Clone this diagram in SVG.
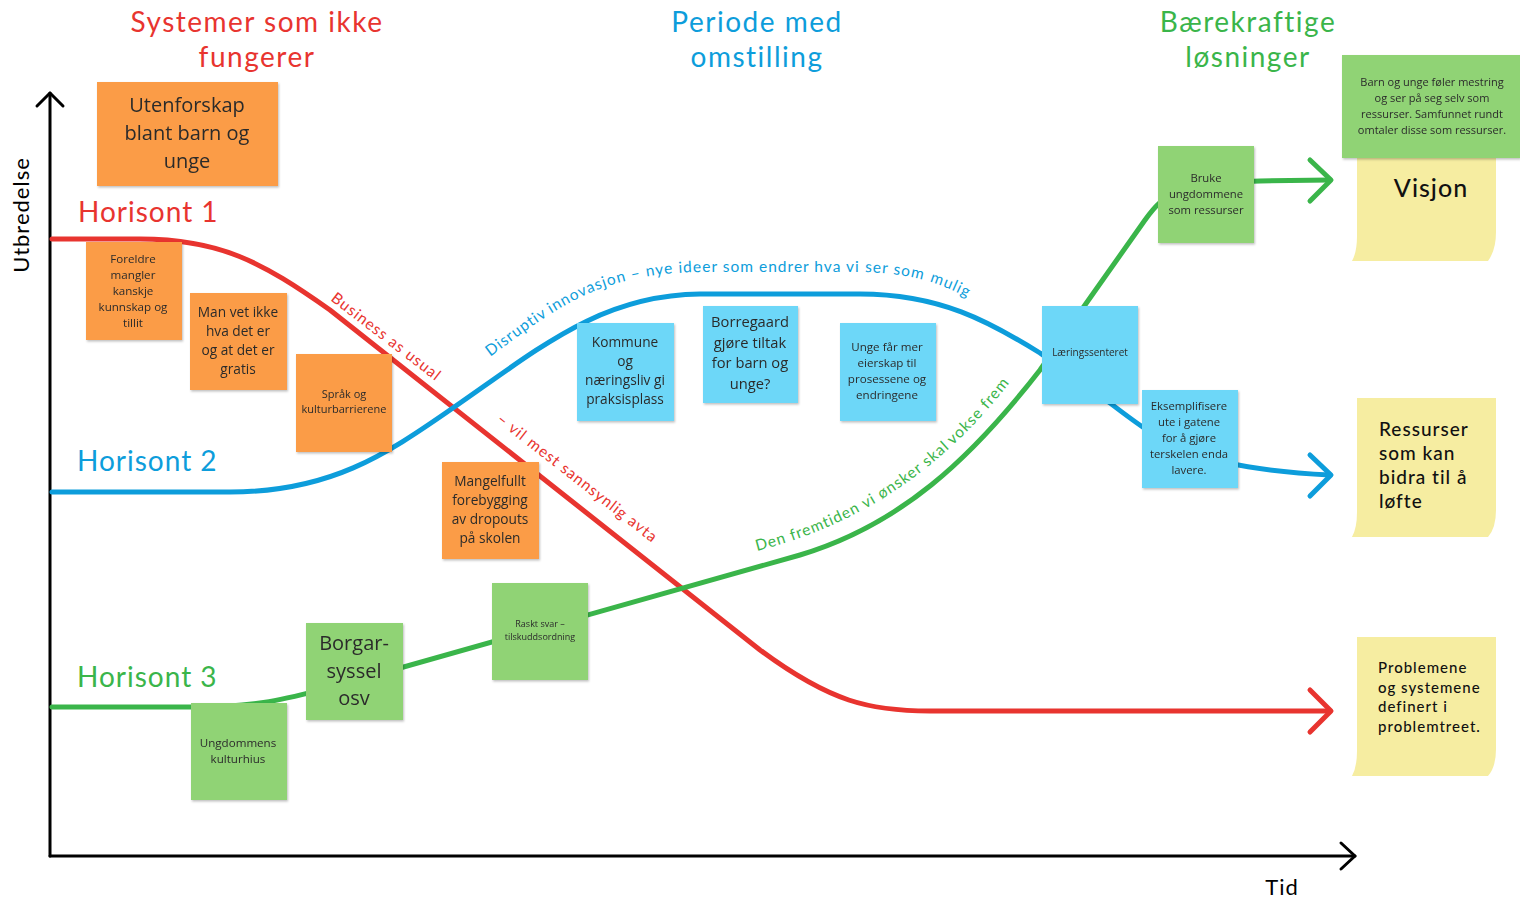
<svg xmlns="http://www.w3.org/2000/svg" width="1520" height="898" viewBox="0 0 1520 898">
<defs>
<filter id="sh" x="-10%" y="-10%" width="130%" height="130%">
<feDropShadow dx="1" dy="1.5" stdDeviation="1.2" flood-color="#000" flood-opacity="0.25"/>
</filter>
<path id="tpBlue" d="M 490,357 C 560,305 600,274 700,272 L 860,272 C 905,273 935,280 972,300"/>
<path id="tpGreen" d="M 757,551 C 850,527 935,478 1007,386"/>
</defs>
<style>
.ax{fill:none;stroke:#000;stroke-width:3;stroke-linecap:round;stroke-linejoin:round}
.ln{fill:none;stroke-width:5;stroke-linecap:round;stroke-linejoin:round}
.r{stroke:#e8342f}.b{stroke:#0d9ddb}.g{stroke:#3ab54a}
.hd{font-family:"Lato","Noto Sans",sans-serif;font-size:28px;letter-spacing:1.5px;text-anchor:middle}
.hz{font-family:"Lato","Noto Sans",sans-serif;font-size:28px;letter-spacing:1px}
.lb{font-family:"Lato","Noto Sans",sans-serif;font-size:15.5px;letter-spacing:1px}
.nt{filter:url(#sh)}
.o{fill:#fb9c46}.gn{fill:#90d375}.bl{fill:#6dd7f8}.y{fill:#f6eda1}
.tx{font-family:"Open Sans","Noto Sans",sans-serif;fill:#2b2b2b;text-anchor:middle}
.yt{font-family:"Lato","Noto Sans",sans-serif;fill:#111;letter-spacing:1px;font-weight:500}
</style>

<g id="axes">
<line class="ax" x1="50" y1="93" x2="50" y2="856"/>
<polyline class="ax" points="37,106 50,93 63,106"/>
<line class="ax" x1="50" y1="856" x2="1355" y2="856"/>
<polyline class="ax" points="1341,843 1355,856 1341,869"/>
<text x="1282" y="895" font-family="Lato, 'Noto Sans', sans-serif" font-size="22" letter-spacing="1" text-anchor="middle">Tid</text>
<text transform="translate(29,215) rotate(-90)" font-family="Lato, 'Noto Sans', sans-serif" font-size="22" letter-spacing="1" text-anchor="middle">Utbredelse</text>
</g>

<g id="headers">
<text class="hd" x="257" y="32" fill="#e8342f">Systemer som ikke</text>
<text class="hd" x="257" y="67" fill="#e8342f">fungerer</text>
<text class="hd" x="757" y="32" fill="#0d9ddb">Periode med</text>
<text class="hd" x="757" y="67" fill="#0d9ddb">omstilling</text>
<text class="hd" x="1248" y="32" fill="#3ab54a">Bærekraftige</text>
<text class="hd" x="1248" y="67" fill="#3ab54a">løsninger</text>
<text class="hz" x="78" y="222" fill="#e8342f">Horisont 1</text>
<text class="hz" x="77" y="471" fill="#0d9ddb">Horisont 2</text>
<text class="hz" x="77" y="687" fill="#3ab54a">Horisont 3</text>
</g>

<g id="connectors">
<path id="h1" class="ln r" d="M 52,239 L 140,239 C 220,239 262,262 330,310 L 760,650 C 830,702 870,711 930,711 L 1330,711"/>
<polyline class="ln r" points="1310,690 1331,711 1310,732"/>
<path id="h2" class="ln b" d="M 52,492 L 230,492 C 330,492 385,455 450,410 C 540,348 600,295 700,294 L 860,294 C 940,294 990,322 1040,353 L 1110,403 C 1165,445 1195,468 1330,475"/>
<polyline class="ln b" points="1310,455 1331,475 1310,496"/>
<path id="h3" class="ln g" d="M 52,707 L 195,707 C 260,707 290,698 340,685 L 800,555 C 900,525 970,460 1040,370 L 1085,305 L 1145,220 C 1165,192 1180,183 1260,181 L 1330,180"/>
<polyline class="ln g" points="1310,160 1331,180 1310,201"/>
<text class="lb" fill="#e8342f" transform="translate(330,300) rotate(37.5)">Business as usual</text>
<g fill="#e8342f" transform="translate(496,421) rotate(38)">
<text class="lb" x="0" y="0">– vil</text>
<text class="lb" x="38.5" y="0">mest</text>
<text class="lb" x="80.5" y="0">sannsynlig avta</text>
</g>
<g fill="#0d9ddb">
<text class="lb"><textPath href="#tpBlue" startOffset="0">Disruptiv</textPath></text>
<text class="lb"><textPath href="#tpBlue" startOffset="75">innovasjon –</textPath></text>
<text class="lb"><textPath href="#tpBlue" startOffset="178">nye ideer som endrer hva vi ser som</textPath></text>
<text class="lb"><textPath href="#tpBlue" startOffset="462">mulig</textPath></text>
</g>
<g fill="#3ab54a">
<text class="lb"><textPath href="#tpGreen" startOffset="0">Den fremtiden vi ønsker skal</textPath></text>
<text class="lb"><textPath href="#tpGreen" startOffset="225">vokse frem</textPath></text>
</g>
</g>

<g id="n-utenforskap" class="nt"><rect class="o" x="97" y="82" width="181" height="104"/>
<text class="tx" font-size="20"><tspan x="187" y="112">Utenforskap</tspan><tspan x="187" y="140">blant barn og</tspan><tspan x="187" y="168">unge</tspan></text></g>

<g id="n-foreldre" class="nt"><rect class="o" x="86" y="242" width="96" height="98"/>
<text class="tx" font-size="11.6"><tspan x="133" y="263">Foreldre</tspan><tspan x="133" y="279">mangler</tspan><tspan x="133" y="295">kanskje</tspan><tspan x="133" y="311">kunnskap og</tspan><tspan x="133" y="327">tillit</tspan></text></g>

<g id="n-manvet" class="nt"><rect class="o" x="190" y="293" width="97" height="97"/>
<text class="tx" font-size="13.7"><tspan x="238" y="317">Man vet ikke</tspan><tspan x="238" y="336">hva det er</tspan><tspan x="238" y="355">og at det er</tspan><tspan x="238" y="374">gratis</tspan></text></g>

<g id="n-sprak" class="nt"><rect class="o" x="296" y="354" width="96" height="98"/>
<text class="tx" font-size="11"><tspan x="344" y="398">Språk og</tspan><tspan x="344" y="413">kulturbarrierene</tspan></text></g>

<g id="n-mangelfullt" class="nt"><rect class="o" x="442" y="462" width="97" height="97"/>
<text class="tx" font-size="13.7"><tspan x="490" y="486">Mangelfullt</tspan><tspan x="490" y="505">forebygging</tspan><tspan x="490" y="524">av dropouts</tspan><tspan x="490" y="543">på skolen</tspan></text></g>

<g id="n-kommune" class="nt"><rect class="bl" x="577" y="323" width="97" height="98"/>
<text class="tx" font-size="13.7"><tspan x="625" y="347">Kommune</tspan><tspan x="625" y="366">og</tspan><tspan x="625" y="385">næringsliv gi</tspan><tspan x="625" y="404">praksisplass</tspan></text></g>

<g id="n-borregaard" class="nt"><rect class="bl" x="703" y="306" width="95" height="97"/>
<text class="tx" font-size="14.7"><tspan x="750" y="327">Borregaard</tspan><tspan x="750" y="347.5">gjøre tiltak</tspan><tspan x="750" y="368">for barn og</tspan><tspan x="750" y="388.5">unge?</tspan></text></g>

<g id="n-unge" class="nt"><rect class="bl" x="840" y="323" width="96" height="98"/>
<text class="tx" font-size="11.6"><tspan x="887" y="351">Unge får mer</tspan><tspan x="887" y="367">eierskap til</tspan><tspan x="887" y="383">prosessene og</tspan><tspan x="887" y="399">endringene</tspan></text></g>

<g id="n-laering" class="nt"><rect class="bl" x="1042" y="306" width="96" height="98"/>
<text class="tx" font-size="10"><tspan x="1090" y="356">Læringssenteret</tspan></text></g>

<g id="n-eksempl" class="nt"><rect class="bl" x="1142" y="390" width="96" height="98"/>
<text class="tx" font-size="11.3"><tspan x="1189" y="410">Eksemplifisere</tspan><tspan x="1189" y="426">ute i gatene</tspan><tspan x="1189" y="442">for å gjøre</tspan><tspan x="1189" y="458">terskelen enda</tspan><tspan x="1189" y="474">lavere.</tspan></text></g>

<g id="n-bruke" class="nt"><rect class="gn" x="1158" y="146" width="96" height="97"/>
<text class="tx" font-size="11.3"><tspan x="1206" y="182">Bruke</tspan><tspan x="1206" y="198">ungdommene</tspan><tspan x="1206" y="214">som ressurser</tspan></text></g>

<g id="n-raskt" class="nt"><rect class="gn" x="492" y="583" width="96" height="97"/>
<text class="tx" font-size="9"><tspan x="540" y="627">Raskt svar –</tspan><tspan x="540" y="640">tilskuddsordning</tspan></text></g>

<g id="n-borgar" class="nt"><rect class="gn" x="306" y="623" width="97" height="97"/>
<text class="tx" font-size="20"><tspan x="354" y="650">Borgar-</tspan><tspan x="354" y="677.5">syssel</tspan><tspan x="354" y="705">osv</tspan></text></g>

<g id="n-kulturhius" class="nt"><rect class="gn" x="191" y="703" width="96" height="97"/>
<text class="tx" font-size="11.6"><tspan x="238" y="747">Ungdommens</tspan><tspan x="238" y="763">kulturhius</tspan></text></g>

<g id="n-visjon"><path class="y" d="M1357,150 H1496 V232 Q1496,250 1488,261 H1352 Q1357,252 1357,236 Z"/>
<text class="yt" x="1431" y="197" font-size="25" text-anchor="middle">Visjon</text></g>

<g id="n-barnogunge" class="nt"><rect class="gn" x="1342" y="55" width="178" height="103"/>
<text class="tx" font-size="11"><tspan x="1432" y="86">Barn og unge føler mestring</tspan><tspan x="1432" y="102">og ser på seg selv som</tspan><tspan x="1432" y="118">ressurser. Samfunnet rundt</tspan><tspan x="1432" y="134">omtaler disse som ressurser.</tspan></text></g>

<g id="n-ressurser"><path class="y" d="M1357,398 H1496 V510 Q1496,528 1488,537 H1352 Q1357,528 1357,512 Z"/>
<text class="yt" font-size="19"><tspan x="1379" y="436">Ressurser</tspan><tspan x="1379" y="460">som kan</tspan><tspan x="1379" y="484">bidra til å</tspan><tspan x="1379" y="508">løfte</tspan></text></g>

<g id="n-problemene"><path class="y" d="M1357,637 H1496 V749 Q1496,767 1488,776 H1352 Q1357,767 1357,751 Z"/>
<text class="yt" font-size="15"><tspan x="1378" y="673">Problemene</tspan><tspan x="1378" y="693">og systemene</tspan><tspan x="1378" y="712">definert i</tspan><tspan x="1378" y="732">problemtreet.</tspan></text></g>
</svg>
